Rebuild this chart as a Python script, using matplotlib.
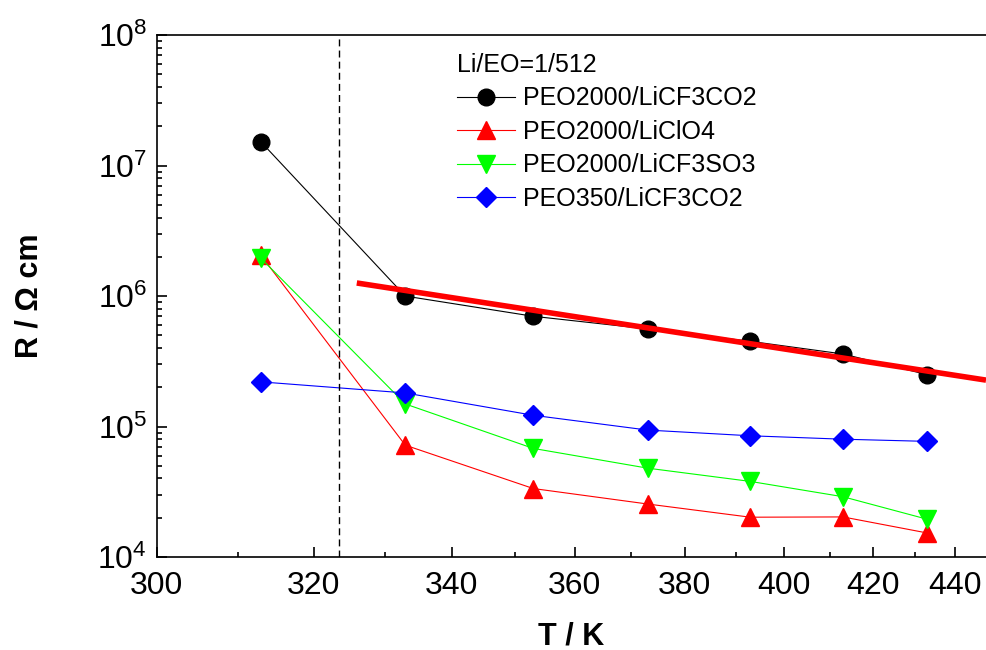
import matplotlib
matplotlib.use('Agg')
import matplotlib.pyplot as plt
import numpy as np
from matplotlib.ticker import LogLocator, LogFormatterMathtext, NullFormatter

plt.rcParams['font.family'] = ['Liberation Sans', 'DejaVu Sans']
plt.rcParams['mathtext.default'] = 'regular'

# Temperaturen (K)
T = [313, 333, 353, 373, 393, 413, 433]

# Widerstand R / Ohm cm
R_peo2000_cf3co2 = [1.52e7, 1.0e6, 7.0e5, 5.6e5, 4.5e5, 3.6e5, 2.5e5]
R_peo2000_clo4 = [2.05e6, 7.2e4, 3.35e4, 2.55e4, 2.02e4, 2.03e4, 1.53e4]
R_peo2000_cf3so3 = [1.95e6, 1.49e5, 6.8e4, 4.8e4, 3.8e4, 2.9e4, 1.95e4]
R_peo350_cf3co2 = [2.2e5, 1.81e5, 1.22e5, 9.4e4, 8.5e4, 8.0e4, 7.7e4]

# Arrhenius-Fit (rote Linie)
T_fit = [326, 448.2]
R_fit = [1.26e6, 2.27e5]

T_melt = 323.5

labels = ['PEO2000/LiCF3CO2', 'PEO2000/LiClO4', 'PEO2000/LiCF3SO3', 'PEO350/LiCF3CO2']

fig = plt.figure(figsize=(9.86, 6.5), dpi=100)
ax = fig.add_axes([0.159, 0.143, 0.841, 0.803])

# x-Achse linear in 1/T, beschriftet in T
ax.set_xscale('function', functions=(lambda t: -1.0 / t, lambda u: -1.0 / u))
ax.set_yscale('log')

ax.plot(T, R_peo2000_cf3co2, '-o', color='black', lw=0.8, ms=12, label=labels[0])
ax.plot(T, R_peo2000_clo4, '-^', color='#ff0000', lw=0.8, ms=13, label=labels[1])
ax.plot(T, R_peo2000_cf3so3, '-v', color='#00ff00', lw=0.8, ms=13, label=labels[2])
ax.plot(T, R_peo350_cf3co2, '-D', color='#0000ff', lw=0.8, ms=10, label=labels[3])
ax.plot(T_fit, R_fit, '-', color='#ff0000', lw=4, solid_capstyle='butt')
ax.axvline(T_melt, color='black', lw=1, ls=(0, (5, 3)))

ax.set_xlim(300, 448.2)
ax.set_ylim(1e4, 1e8)
ax.set_xticks([300, 320, 340, 360, 380, 400, 420, 440])
ax.set_xticks([310, 330, 350, 370, 390, 410, 430], minor=True)
ax.xaxis.set_minor_formatter(NullFormatter())
ax.yaxis.set_major_locator(LogLocator(base=10, numticks=10))
ax.yaxis.set_minor_locator(LogLocator(base=10, subs=np.arange(2, 10), numticks=10))
ax.yaxis.set_major_formatter(LogFormatterMathtext())

ax.tick_params(which='both', direction='in', top=False, right=False, labelsize=23, width=1.2)
ax.tick_params(which='major', length=7)
ax.tick_params(which='minor', length=3.5)
ax.tick_params(axis='x', pad=10)
ax.tick_params(axis='y', pad=7)
ax.spines['right'].set_visible(False)
for s in ['left', 'bottom', 'top']:
    ax.spines[s].set_linewidth(1.2)

ax.set_xlabel('T / K', fontsize=22, fontweight='bold', labelpad=15)
ax.set_ylabel('R / Ω cm', fontsize=22, fontweight='bold', labelpad=38)

leg = ax.legend(loc='upper left', bbox_to_anchor=(0.35, 0.985), frameon=False,
                title='Li/EO=1/512', fontsize=18, title_fontsize=18,
                handlelength=2.3, handletextpad=0.35, labelspacing=0.38,
                alignment='left', borderaxespad=0)

fig.savefig('out.png', dpi=100)
